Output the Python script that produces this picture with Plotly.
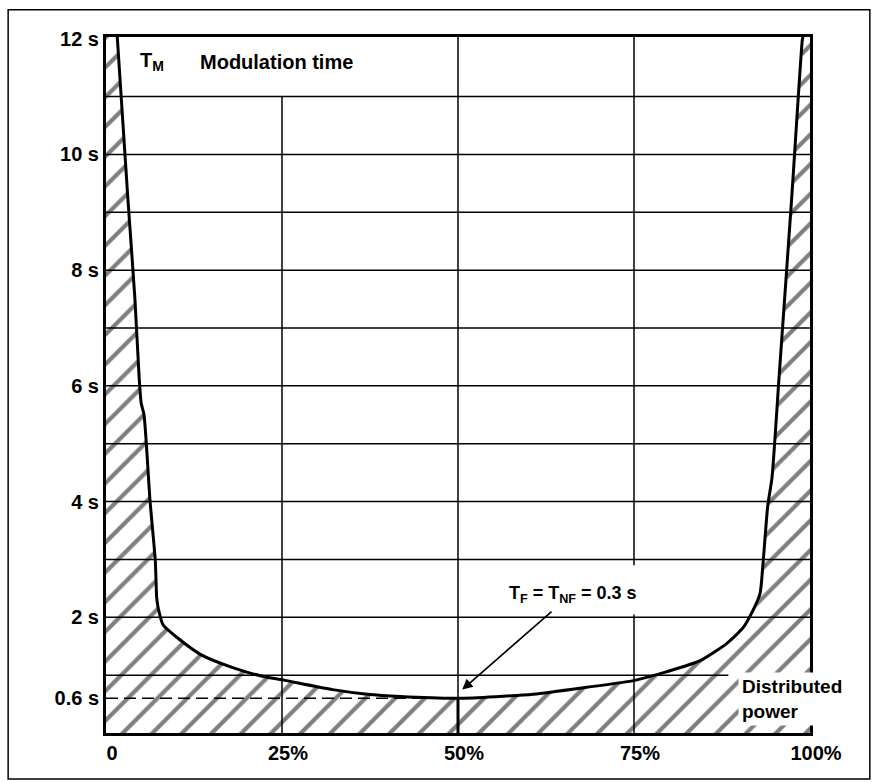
import plotly.graph_objects as go

# ---------------- data ----------------
x_ticks = [0, 25, 50, 75, 100]
x_tick_text = ["0", "25%", "50%", "75%", "100%"]
y_ticks = [0.6, 2, 4, 6, 8, 10, 12]
y_tick_text = ["0.6 s", "2 s", "4 s", "6 s", "8 s", "10 s", "12 s"]
grid_seconds = [1, 2, 3, 4, 5, 6, 7, 8, 9, 10, 11]
grid_end_pct = [88.4, 100, 100, 100, 100, 100, 100, 100, 100, 100, 100]

# distributed power (%) vs modulation time T_M (s)
power_pct = [1.6, 3.1, 4.1, 4.7, 5.0, 5.4, 6.25, 7.0, 7.2, 7.4, 8.1, 10.1, 13.4,
             18.0, 21.9, 25.4, 32.2, 37.1, 41.8, 50.0, 60.7, 68.3, 75.1, 79.7,
             84.4, 88.2, 90.5, 91.9, 92.9, 93.3, 94.0, 94.6, 95.6, 97.4, 98.9, 99.0]
mod_time_s = [12.03, 9.25, 7.52, 6.16, 5.70, 5.50, 4.02, 2.98, 2.34, 2.17, 1.87, 1.65, 1.36,
              1.13, 0.99, 0.91, 0.75, 0.67, 0.63, 0.60, 0.67, 0.79, 0.91, 1.06,
              1.25, 1.55, 1.82, 2.12, 2.41, 2.89, 3.93, 4.41, 6.14, 9.25, 11.97, 12.03]

X_MAX = 100
Y_MAX = 12.03
T_FLOOR = 0.6            # dashed reference line (0.6 s)

FONT = "Liberation Sans, Arial, Helvetica, sans-serif"

fig = go.Figure()

# hatched region under the curve (down to the axis)
region_x = [0] + power_pct + [X_MAX]
region_y = [Y_MAX] + mod_time_s + [Y_MAX]
fig.add_trace(go.Scatter(
    x=region_x, y=region_y, mode="lines", fill="tozeroy",
    line=dict(width=0, color="black"),
    fillcolor="white",
    fillpattern=dict(shape="/", size=21, solidity=0.2, fgcolor="black",
                     bgcolor="white"),
    hoverinfo="skip", showlegend=False))

# horizontal grid lines
for s, xe in zip(grid_seconds, grid_end_pct):
    fig.add_shape(type="line", xref="x", yref="y", x0=0, x1=xe, y0=s, y1=s,
                  line=dict(color="black", width=1.5), layer="above")
# dashed 0.6 s line
fig.add_shape(type="line", xref="x", yref="y", x0=0, x1=50, y0=T_FLOOR, y1=T_FLOOR,
              line=dict(color="black", width=1.5, dash="12px,6px"), layer="above")

# vertical grid lines (segments)
v_x = [25, 50, 75, 75]
v_y0 = [0, 0, 0, 2.9]
v_y1 = [11, Y_MAX, 2.05, Y_MAX]
for vx, a, b in zip(v_x, v_y0, v_y1):
    fig.add_shape(type="line", xref="x", yref="y", x0=vx, x1=vx, y0=a, y1=b,
                  line=dict(color="black", width=1.5), layer="above")
fig.add_shape(type="line", xref="x", yref="y", x0=50, x1=50, y0=0, y1=T_FLOOR,
              line=dict(color="black", width=3), layer="above")

# curve
fig.add_trace(go.Scatter(
    x=power_pct, y=mod_time_s, mode="lines",
    line=dict(color="black", width=3, shape="spline", smoothing=0.6),
    hoverinfo="skip", showlegend=False))

# outer frame
fig.add_shape(type="rect", xref="paper", yref="paper",
              x0=-0.139, x1=1.085, y0=-0.066, y1=1.039,
              line=dict(color="black", width=1.5), fillcolor="rgba(0,0,0,0)",
              layer="above")

bold = dict(family=FONT, size=20, color="black", weight="bold")

fig.add_annotation(x=4.5, y=11.6, xref="x", yref="y", text="T<sub>M</sub>",
                   showarrow=False, xanchor="left", yanchor="middle", font=bold)
fig.add_annotation(x=13.1, y=11.6, xref="x", yref="y", text="Modulation time",
                   showarrow=False, xanchor="left", yanchor="middle", font=bold)
fig.add_annotation(x=66.3, y=2.39, xref="x", yref="y",
                   text="T<sub>F</sub> = T<sub>NF</sub> = 0.3 s",
                   showarrow=False, xanchor="center", yanchor="middle",
                   font=dict(family=FONT, size=18, color="black", weight="bold"))
fig.add_annotation(x=50.6, y=0.75, xref="x", yref="y", ax=63.5, ay=2.12,
                   axref="x", ayref="y", text="", showarrow=True,
                   arrowhead=2, arrowsize=1.3, arrowwidth=1.6, arrowcolor="black")
fig.add_annotation(x=89.8, y=0.58, xref="x", yref="y",
                   text="Distributed<br>power", align="left",
                   showarrow=False, xanchor="left", yanchor="middle",
                   bgcolor="white", borderpad=3,
                   font=dict(family=FONT, size=19, color="black", weight="bold"))

fig.update_layout(
    width=872, height=782,
    margin=dict(l=106, r=62, t=37, b=49, pad=0),
    plot_bgcolor="white", paper_bgcolor="white",
    showlegend=False,
    xaxis=dict(range=[0, X_MAX], showgrid=False, zeroline=False,
               showline=True, linecolor="black", linewidth=3, mirror=True,
               tickmode="array", tickvals=x_ticks, ticktext=x_tick_text,
               ticks="", tickfont=bold, ticklabelshift=6, fixedrange=True),
    yaxis=dict(range=[0, Y_MAX], showgrid=False, zeroline=False,
               showline=True, linecolor="black", linewidth=3, mirror=True,
               tickmode="array", tickvals=y_ticks, ticktext=y_tick_text,
               ticks="", tickfont=bold, fixedrange=True),
)

fig.write_html("out.html", config={"displayModeBar": False},
               post_script="document.body.style.margin='0';document.body.style.overflow='hidden';")
